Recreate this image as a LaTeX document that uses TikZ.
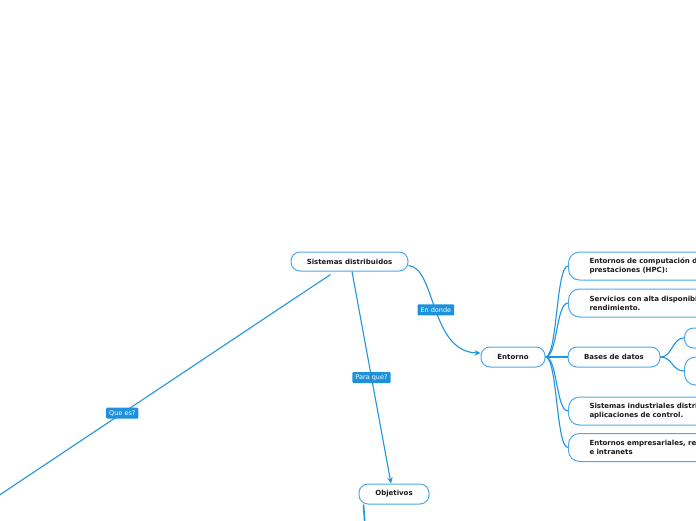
\documentclass[tikz,border=0pt]{standalone}
\usepackage{fontspec}
\setmainfont{DejaVu Sans}
\usetikzlibrary{arrows.meta,calc}
\definecolor{linkblue}{HTML}{1F95DE}
\definecolor{boxblue}{HTML}{4DA9E8}
\definecolor{tagblue}{HTML}{1E91DC}
\definecolor{ink}{HTML}{1A1A1A}
\begin{document}
\begin{tikzpicture}[x=1pt,y=-1pt,
 topic/.style={draw=boxblue, line width=1pt, fill=white, rounded corners=9pt, text=ink,
   font=\bfseries\fontsize{7}{9}\selectfont, inner sep=0pt, minimum height=20pt},
 sub/.style={topic, anchor=west, minimum height=28pt, minimum width=172pt, text width=130pt,
   inner xsep=21pt, align=left, rounded corners=11pt},
 conn/.style={draw=linkblue, line width=1.1pt},
 tip/.style={-{Stealth[length=6pt,width=5.5pt]}},
 tag/.style={fill=tagblue, text=white, font=\fontsize{6.5}{8}\selectfont, inner xsep=3pt,
   inner ysep=0pt, minimum height=11pt, rounded corners=1pt}
]
\useasboundingbox (0,0) rectangle (696,520);
\clip (0,0) rectangle (696,520);

% main topics
\node[topic, minimum width=117pt, minimum height=19pt] (sd) at (349.5,261.5) {Sistemas distribuidos};
\node[topic, minimum width=64pt] (ent) at (513,357) {Entorno};
\node[topic, minimum width=70pt] (obj) at (394,494) {Objetivos};
\node[topic, minimum width=92pt] (bd) at (614,357) {Bases de datos};

% subtopics of Entorno
\node[sub] (hpc) at (568,266) {Entornos de computación d\\prestaciones (HPC):};
\node[sub] (serv) at (568,303) {Servicios con alta disponibil\\rendimiento.};
\node[sub] (ind) at (568,411) {Sistemas industriales distri\\aplicaciones de control.};
\node[sub] (emp) at (568,447.5) {Entornos empresariales, rec\\e intranets};

% children of Bases de datos
\node[topic, anchor=west, minimum width=60pt, minimum height=20pt] (bd1) at (684,338) {};
\node[topic, anchor=west, minimum width=60pt, minimum height=28pt, rounded corners=11pt] (bd2) at (684,371) {};

% free ends
\coordinate (qeend) at (-20,508);
\coordinate (objend) at (365,526);

% connectors
\draw[conn, tip] ($(sd.east)+(0,4)$) .. controls (436,268) and (430,352) .. ($(ent.west)+(0,-4)$)
  node[tag, pos=0.5] {En donde};
\draw[conn, tip] ($(sd.south)+(2.5,0)$) -- ($(obj.north)+(-3,0)$)
  node[tag, pos=0.5] {Para que?};
\draw[conn] ($(sd.south west)+(40,3)$) -- (qeend)
  node[tag, pos=0.594] {Que es?};
\draw[conn, line width=1.6pt] ($(obj.south west)+(5,0)$) -- (objend);

\foreach \c in {hpc,serv,ind,emp}
  \draw[conn] (ent.east) .. controls +(12,0) and +(-12,0) .. (\c.west);
\draw[conn] (ent.east) -- (bd.west);
\foreach \c in {bd1,bd2}
  \draw[conn] (bd.east) .. controls +(12,0) and +(-12,0) .. (\c.west);
\end{tikzpicture}
\end{document}
